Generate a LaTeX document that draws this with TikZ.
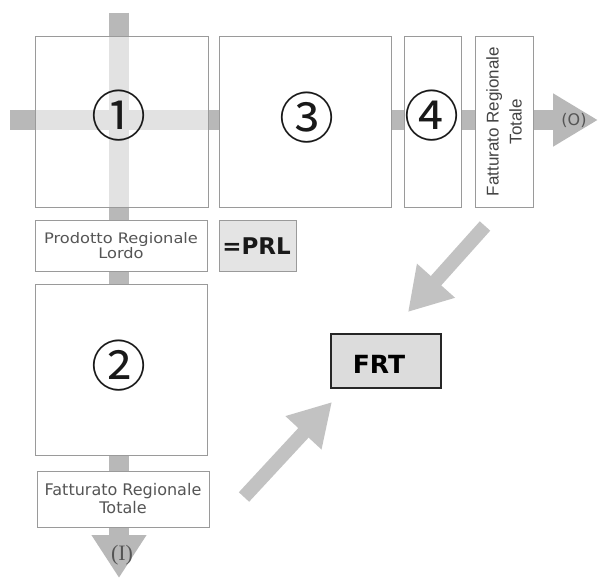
\documentclass[tikz,border=0pt]{standalone}
\usepackage{fontspec}
\setmainfont{DejaVu Sans}
\newfontfamily\dejavu{DejaVu Sans}
\newfontfamily\dejavuwide[FakeStretch=1.12]{DejaVu Sans}
\newfontfamily\libsans{Liberation Sans}
\newfontfamily\libserif{Liberation Serif}
\newfontfamily\cjkjp{Noto Sans CJK JP}
\usetikzlibrary{arrows.meta}
\definecolor{bandgray}{HTML}{B8B8B8}
\definecolor{diaggray}{HTML}{C2C2C2}
\definecolor{boxline}{HTML}{9A9A9A}
\definecolor{txtgray}{HTML}{555555}
\definecolor{vtxt}{HTML}{444444}
\definecolor{prlfill}{HTML}{E4E4E4}
\definecolor{frtfill}{HTML}{DCDCDC}
\tikzset{
  box/.style={draw=boxline, line width=0.9pt, fill=white, inner sep=0pt, outer sep=0pt},
  band/.style={draw=bandgray, line width=20pt},
  diag/.style={draw=diaggray, line width=14pt},
  circnum/.style={font=\cjkjp\fontsize{55}{55}\selectfont, text=black!90, inner sep=0pt},
  lbl/.style={text=txtgray, align=center, inner sep=0pt},
}
\begin{document}
\begin{tikzpicture}[x=1pt,y=-1pt]
\useasboundingbox (0,0) rectangle (598,578);
\fill[white] (0,0) rectangle (598,578);
% band end points
\coordinate (hs) at (10,120);
\coordinate (he) at (598,120);
\coordinate (vs) at (119,13);
\coordinate (ve) at (119,578);
\draw[band, -{Triangle[length=45pt,width=50pt]}] (hs) -- (he);
\draw[band, -{Triangle[length=43pt,width=52pt]}] (vs) -- (ve);
% boxes
\node[box, fill opacity=0.6, text opacity=1, draw opacity=1, minimum width=173pt, minimum height=171pt] (b1) at (121.5,121.5) {};
\node[box, minimum width=172pt, minimum height=171pt] (b3) at (305,121.5) {};
\node[box, minimum width=57pt, minimum height=171pt] (b4) at (432.5,121.5) {};
\node[box, rotate=90, minimum width=171pt, minimum height=58pt] (frtv) at (504,121.5) {};
\node[box, minimum width=172pt, minimum height=51pt] (prl) at (121,245.5) {};
\node[box, fill=prlfill, minimum width=77pt, minimum height=51pt] (eqprl) at (257.5,245.5) {};
\node[box, minimum width=172pt, minimum height=171pt] (b2) at (121,369.5) {};
\node[box, minimum width=172pt, minimum height=56pt] (frtb) at (123,499) {};
\node[box, draw=black!85, line width=1.1pt, fill=frtfill, minimum width=110pt, minimum height=54pt] (frt) at (386,361) {};
% texts
\node[circnum] (n1) at (119,116) {①};
\node[circnum] (n3) at (307,118) {③};
\node[circnum] (n4) at (432,116) {④};
\node[circnum] (n2) at (119,366) {②};
\node[lbl, font=\dejavuwide\fontsize{14.5}{12.5}\selectfont] (prltxt) at (prl) {Prodotto Regionale\\Lordo};
\node[inner sep=0pt, font=\dejavu\bfseries\fontsize{23}{23}\selectfont, text=black!90] (eqprltxt) at (256.5,246) {=PRL};
\node[lbl, font=\dejavu\fontsize{16}{18}\selectfont] (frtbtxt) at (frtb) {Fatturato Regionale\\Totale};
\node[lbl, text=vtxt, rotate=90, font=\libsans\fontsize{17}{23}\selectfont] (frtvtxt) at (frtv) {Fatturato Regionale\\Totale};
\node[inner sep=0pt, font=\dejavu\bfseries\fontsize{25}{25}\selectfont, text=black] (frttxt) at (379,364) {FRT};
\node[lbl, font=\dejavu\fontsize{16}{16}\selectfont] (out) at (574,120) {(O)};
\node[lbl, font=\libserif\fontsize{22}{22}\selectfont] (inp) at (122,555) {(I)};
% diagonal arrows
\coordinate (d1s) at (485,226);
\coordinate (d1e) at (408,312);
\coordinate (d2s) at (244,497);
\coordinate (d2e) at (332,402);
\draw[diag, -{Triangle[length=42pt,width=48pt]}] (d1s) -- (d1e);
\draw[diag, -{Triangle[length=42pt,width=46pt]}] (d2s) -- (d2e);
\end{tikzpicture}
\end{document}
